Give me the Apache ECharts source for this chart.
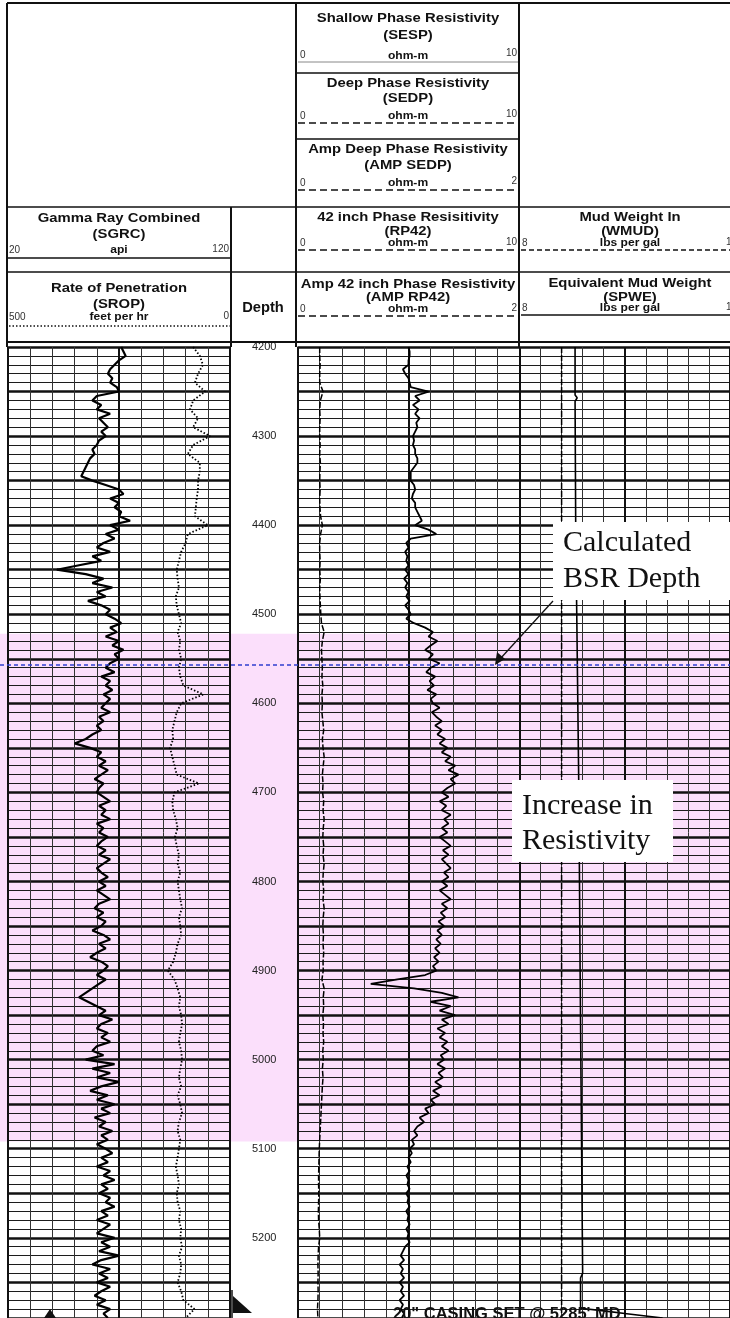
<!DOCTYPE html>
<html><head><meta charset="utf-8">
<script src="https://cdn.jsdelivr.net/npm/echarts@6/dist/echarts.min.js"></script>
<style>html,body{margin:0;padding:0;background:#fff}#c{width:730px;height:1318px}</style>
</head><body><div id="c"></div>
<script>
// ---------------- data ----------------
const depthTop = 4200, depthBottom = 5290;
const pinkTop = 4522, pinkBottom = 5092;   // shaded interval (ft)
const bsrDepth = 4557;                     // calculated BSR depth (ft)

// Gamma ray (api), every 5 ft from 4200
const grStart = 4200, grStep = 5;
const grValues = [
 71,72,73,70,68,66,65,67,66,69,70,60,58,62,60,66,61,63,65,62,
 64,61,60,58,59,57,56,55,54,53,58,64,70,72,66,70,68,71,70,75,
 66,70,64,68,63,60,66,58,62,52,42,55,63,58,67,60,64,56,62,66,
 64,68,71,66,69,64,70,67,72,68,70,66,64,68,62,66,64,67,63,66,
 64,62,66,61,63,60,62,58,55,50,57,62,60,64,61,65,62,59,63,61,
 60,63,66,61,64,62,66,60,63,61,65,62,60,64,61,66,63,60,62,65,
 61,64,60,63,66,61,59,63,60,64,62,58,63,66,61,64,60,57,62,65,
 63,60,64,61,58,55,52,56,60,64,61,67,62,60,65,62,66,60,58,63,
 55,68,58,66,60,70,62,57,65,60,68,62,66,59,64,61,67,62,65,60,
 64,67,62,65,60,66,63,68,62,65,61,66,64,68,62,65,60,66,63,60,
 68,62,66,61,70,62,58,66,61,65,60,66,62,59,64,60,66,63,65
];
// Rate of penetration (ft/hr), every 10 ft from 4200
const ropStart = 4200, ropStep = 10;
const ropValues = [
 83,68,61,72,79,56,83,90,72,83,
 45,83,95,68,68,72,72,75,77,79,
 50,95,100,110,115,120,118,115,122,120,
 115,110,118,112,115,110,115,112,105,60,
 110,120,125,130,128,135,130,125,120,70,
 125,130,128,122,118,124,120,115,118,112,
 118,115,112,108,115,112,110,118,122,128,
 140,125,118,112,115,110,108,112,115,110,
 108,112,115,110,118,112,108,115,118,112,
 115,118,122,118,115,120,118,112,115,110,
 112,108,115,110,112,118,110,105,80,100
];
// Deep phase resistivity (ohm-m, 0-10 scale), every 10 ft from 4200
const resStart = 4200, resStep = 10;
const resValues = [
 1.0,1.0,1.02,1.0,1.0,1.15,1.03,1.0,1.02,1.0,
 1.0,1.02,1.0,1.03,1.01,1.0,1.02,1.0,1.01,1.04,
 1.12,1.04,1.0,1.0,1.02,1.0,1.03,1.0,1.01,1.03,
 1.05,1.08,1.2,1.12,1.08,1.1,1.12,1.1,1.14,1.1,
 1.12,1.1,1.14,1.18,1.12,1.15,1.2,1.16,1.12,1.15,
 1.13,1.18,1.15,1.2,1.16,1.14,1.18,1.15,1.2,1.16,
 1.14,1.18,1.15,1.2,1.16,1.14,1.17,1.15,1.18,1.15,
 1.16,1.1,1.2,1.16,1.18,1.14,1.17,1.15,1.18,1.14,
 1.16,1.12,1.15,1.12,1.1,1.08,1.06,1.04,1.02,1.0,
 0.98,0.97,0.96,0.95,0.95,0.96,0.95,0.94,0.95,0.98,
 1.0,0.95,0.93,0.92,0.93,0.92,0.93,0.92,0.9,0.92
];
// Amp 42 inch phase resistivity (ohm-m, 0-2 scale), every 5 ft from 4200
const ampStart = 4200, ampStep = 5;
const ampValues = [
 1.00,1.01,1.01,1.00,1.00,0.95,0.97,1.00,1.01,1.02,1.18,1.06,1.10,1.04,1.09,1.06,1.10,1.07,1.08,1.06,
 1.04,1.05,1.04,1.06,1.06,1.08,1.08,1.05,1.02,1.02,1.02,1.05,1.06,1.04,1.03,1.06,1.06,1.08,1.10,1.12,
 1.06,1.18,1.25,1.02,0.98,1.00,0.97,0.99,0.98,1.00,0.97,1.00,0.96,0.99,0.97,1.00,0.98,1.01,0.97,1.00,
 1.02,0.98,1.05,1.15,1.22,1.18,1.26,1.20,1.15,1.22,1.18,1.28,1.20,1.16,1.24,1.19,1.23,1.17,1.25,1.20,
 1.22,1.28,1.21,1.25,1.30,1.24,1.30,1.26,1.33,1.28,1.35,1.30,1.38,1.33,1.42,1.36,1.45,1.38,1.42,1.35,
 1.30,1.36,1.28,1.34,1.30,1.38,1.32,1.36,1.30,1.35,1.28,1.33,1.38,1.31,1.36,1.30,1.34,1.38,1.32,1.36,
 1.30,1.35,1.28,1.33,1.38,1.30,1.35,1.29,1.33,1.27,1.32,1.26,1.30,1.25,1.29,1.24,1.28,1.23,1.27,1.22,
 1.25,1.15,0.90,0.66,1.05,1.30,1.45,1.20,1.38,1.28,1.42,1.30,1.36,1.26,1.33,1.28,1.35,1.30,1.36,1.29,
 1.32,1.26,1.33,1.27,1.31,1.24,1.30,1.22,1.28,1.20,1.24,1.15,1.18,1.10,1.14,1.08,1.05,1.08,1.03,1.05,
 1.01,1.03,1.00,1.02,0.99,1.01,0.98,1.00,0.99,1.01,0.98,1.00,0.99,1.01,0.98,1.00,0.99,1.01,0.98,1.00,
 0.99,1.01,0.97,0.95,0.93,0.96,0.92,0.95,0.93,0.96,0.92,0.95,0.93,0.96,0.92,0.95,0.93,0.96,0.94
];
// Mud weight in (lbs/gal)
const wmudDepths = [4200, 5290];
const wmudValues = [10.0, 10.0];
// Equivalent mud weight (lbs/gal)
const spweDepths = [4200, 4254, 4257, 4261, 4400, 4500, 4700, 4900, 5100, 5240, 5245, 5279, 5282, 5285, 5290];
const spweValues = [10.64,10.64,10.74,10.64,10.67,10.72,10.82,10.88,10.95,11.0,10.9,10.9,12.0,13.0,14.8];

// ---------------- chart ----------------
const regular = (start, step, vals) => vals.map((v, i) => [v, start + i * step]);
const paired = (ds, vs) => vs.map((v, i) => [v, ds[i]]);

const F = '"Liberation Sans", Arial, sans-serif';
const SERIF = '"Liberation Serif", "Times New Roman", serif';
const GT = 347, GH = 971;
const thin = {show: true, lineStyle: {color: '#1c1c1c', width: 1}};
const thick = {show: true, lineStyle: {color: '#111', width: 2.6}};
const vthin = {show: true, lineStyle: {color: '#333', width: 1}};
const vthick = {show: true, lineStyle: {color: '#111', width: 2}};

function xa(grid, min, max, interval, split, inverse) {
  return {type: 'value', gridIndex: grid, min, max, interval, inverse: !!inverse, zlevel: 1,
    axisLine: {show: false}, axisTick: {show: false}, axisLabel: {show: false},
    splitLine: split || {show: false}};
}
function ya(grid, interval, split) {
  return {type: 'value', gridIndex: grid, inverse: true, min: depthTop, max: depthBottom, interval, zlevel: 1,
    axisLine: {show: false}, axisTick: {show: false}, axisLabel: {show: false},
    splitLine: split || {show: false}};
}
function T(x, y, text, size, weight, align, color, family, sx) {
  return {type: 'text', x, y, z: 100, zlevel: 1, scaleX: sx || 1,
    style: {text, fontSize: size || 13.5, fontWeight: weight || 'bold',
    fontFamily: family || F, fill: color || '#111', align: align || 'center', verticalAlign: 'middle'}};
}
// header titles: slightly wide lettering as in the print
const H = (x, y, text) => T(x, y, text, 13.5, 'bold', 'center', '#111', F, 1.1);
const U = (x, y, text) => T(x, y, text, 11.5, 'bold', 'center', '#111', F, 1.05);
const N = (x, y, text, align) => T(x, y, text, 10, 'normal', align, '#333');
function L(x1, y1, x2, y2, w, dash, color) {
  return {type: 'line', z: 100, zlevel: 1, shape: {x1, y1, x2, y2},
    style: {stroke: color || '#111', lineWidth: w || 1.5, lineDash: dash || null}};
}

const xAxis = [
  xa(0, 20, 120, 10, vthin),      // 0 GR
  xa(0, 0, 500, 50, null, true),  // 1 ROP
  xa(0, 20, 120, 50, vthick),     // 2
  xa(2, 0, 10, 1, vthin),         // 3 RES
  xa(2, 0, 2, 0.2),               // 4 AMP
  xa(2, 0, 10, 5, vthick),        // 5
  xa(3, 8, 18, 1, vthin),         // 6 MUD
  xa(3, 8, 18, 5, vthick),        // 7
  xa(1, 0, 1, 1),                 // 8
  xa(4, 0, 1, 1)                  // 9
];
const depthAxis = ya(1, 100);
depthAxis.axisLabel = {show: true, inside: true, margin: 21, fontSize: 11, color: '#222', fontFamily: F,
  align: 'left', showMaxLabel: false, formatter: v => (v % 100 === 0 ? String(v) : '')};
depthAxis.position = 'left';
const yAxis = [
  ya(0, 10, thin), ya(0, 50, thick), depthAxis,
  ya(2, 10, thin), ya(2, 50, thick),
  ya(3, 10, thin), ya(3, 50, thick),
  ya(4, 50)
];

const dash = [7, 4];
const graphic = [
  // header frame
  L(7, 3, 730, 3, 2), L(7, 3, 7, 347, 2),
  L(296, 3, 296, 347, 2), L(519, 3, 519, 347, 2), L(231, 207, 231, 347, 2),
  L(298, 62, 518, 62, 1, null, '#888'), L(296, 73, 519, 73, 1.5),
  L(298, 123, 518, 123, 1.6, dash), L(296, 139, 519, 139, 1.5),
  L(298, 190, 518, 190, 1.6, dash),
  L(7, 207, 730, 207, 1.5), L(7, 258, 231, 258, 1.5), L(7, 272, 730, 272, 1.5),
  L(298, 250, 518, 250, 1.6, dash), L(521, 250, 730, 250, 1.6, [5, 3]),
  L(9, 326, 230, 326, 1.6, [1.5, 2]),
  L(298, 316, 518, 316, 1.6, dash), L(521, 315, 730, 315, 1.5),
  L(7, 342, 730, 342, 2),
  // resistivity headers
  H(408, 18, 'Shallow Phase Resistivity'), H(408, 35, '(SESP)'),
  N(300, 55, '0', 'left'), U(408, 56, 'ohm-m'), N(517, 53, '10', 'right'),
  H(408, 83, 'Deep Phase Resistivity'), H(408, 98, '(SEDP)'),
  N(300, 116, '0', 'left'), U(408, 116, 'ohm-m'), N(517, 114, '10', 'right'),
  H(408, 149, 'Amp Deep Phase Resistivity'), H(408, 165, '(AMP SEDP)'),
  N(300, 183, '0', 'left'), U(408, 183, 'ohm-m'), N(517, 181, '2', 'right'),
  H(408, 217, '42 inch Phase Resisitivity'), H(408, 231, '(RP42)'),
  N(300, 243, '0', 'left'), U(408, 243, 'ohm-m'), N(517, 242, '10', 'right'),
  H(408, 284, 'Amp 42 inch Phase Resistivity'), H(408, 297, '(AMP RP42)'),
  N(300, 309, '0', 'left'), U(408, 309, 'ohm-m'), N(517, 308, '2', 'right'),
  // left headers
  H(119, 218, 'Gamma Ray Combined'), H(119, 234, '(SGRC)'),
  N(9, 250, '20', 'left'), U(119, 250, 'api'), N(229, 249, '120', 'right'),
  H(119, 288, 'Rate of Penetration'), H(119, 304, '(SROP)'),
  N(9, 317, '500', 'left'), U(119, 317, 'feet per hr'), N(229, 316, '0', 'right'),
  T(263, 308, 'Depth', 14, 'bold', 'center', '#111', F, 1.05),
  // mud headers
  H(630, 217, 'Mud Weight In'), H(630, 231, '(WMUD)'),
  N(522, 243, '8', 'left'), U(630, 243, 'lbs per gal'), N(726, 242, '18', 'left'),
  H(630, 283, 'Equivalent Mud Weight'), H(630, 297, '(SPWE)'),
  N(522, 308, '8', 'left'), U(630, 308, 'lbs per gal'), N(726, 307, '18', 'left'),
  // annotations
  {type: 'rect', z: 90, zlevel: 1, shape: {x: 553, y: 522, width: 180, height: 78}, style: {fill: '#fff'}},
  T(563, 543, 'Calculated', 30, 'normal', 'left', '#111', SERIF),
  T(563, 579, 'BSR Depth', 30, 'normal', 'left', '#111', SERIF),
  L(553, 601, 500, 659, 1.3, null, '#111'),
  {type: 'polygon', z: 100, zlevel: 1, shape: {points: [[495, 665], [497, 652], [505, 659]]}, style: {fill: '#111'}},
  {type: 'rect', z: 90, zlevel: 1, shape: {x: 512, y: 780, width: 161, height: 82}, style: {fill: '#fff'}},
  T(522, 806, 'Increase in', 30, 'normal', 'left', '#111', SERIF),
  T(522, 841, 'Resistivity', 30, 'normal', 'left', '#111', SERIF),
  // bottom marks
  {type: 'polygon', z: 100, zlevel: 1, shape: {points: [[44, 1318], [50, 1309], [56, 1318]]}, style: {fill: '#111'}},
  L(232, 1290, 232, 1318, 1.5),
  {type: 'polygon', z: 100, zlevel: 1, shape: {points: [[233, 1296], [233, 1313], [252, 1313]]}, style: {fill: '#111'}},
  T(393, 1314, '20" CASING SET @ 5285\' MD', 16.5, 'bold', 'left', '#111')
];

const curve = (name, xi, yi, data, style) => ({type: 'line', name, xAxisIndex: xi, yAxisIndex: yi,
  zlevel: 1, z: 5, silent: true, showSymbol: false, data, lineStyle: style});

const series = [
  {type: 'line', xAxisIndex: 9, yAxisIndex: 7, zlevel: 0, z: 1, silent: true, showSymbol: false,
    data: [[0, depthTop]], lineStyle: {width: 0},
    markArea: {silent: true, itemStyle: {color: '#fbdffb'}, data: [[{yAxis: pinkTop}, {yAxis: pinkBottom}]]}},
  curve('SGRC', 0, 0, regular(grStart, grStep, grValues), {color: '#000', width: 2.2}),
  curve('SROP', 1, 0, regular(ropStart, ropStep, ropValues), {color: '#000', width: 1.8, type: [1.5, 2]}),
  curve('SEDP', 3, 3, regular(resStart, resStep, resValues), {color: '#000', width: 1.5, type: [6, 2]}),
  curve('AMP RP42', 4, 3, regular(ampStart, ampStep, ampValues), {color: '#000', width: 1.8}),
  curve('WMUD', 6, 5, paired(wmudDepths, wmudValues), {color: '#000', width: 1.5, type: [6, 2]}),
  curve('SPWE', 6, 5, paired(spweDepths, spweValues), {color: '#000', width: 1.6}),
  {type: 'line', name: 'BSR', xAxisIndex: 9, yAxisIndex: 7, zlevel: 1, z: 20, silent: true, showSymbol: false,
    data: [[0, bsrDepth], [1, bsrDepth]], lineStyle: {color: '#2f3fcf', width: 1.6, type: [4, 3]}}
];

const chart = echarts.init(document.getElementById('c'), null, {renderer: 'canvas'});
chart.setOption({
  backgroundColor: '#fff',
  animation: false,
  grid: [
    {left: 8, top: GT, width: 222, height: GH},
    {left: 231, top: GT, width: 65, height: GH},
    {left: 297.5, top: GT, width: 222, height: GH},
    {left: 519.5, top: GT, width: 221.5, height: GH},
    {left: 0, top: GT, width: 730, height: GH}
  ],
  xAxis, yAxis, series, graphic
});
</script></body></html>
